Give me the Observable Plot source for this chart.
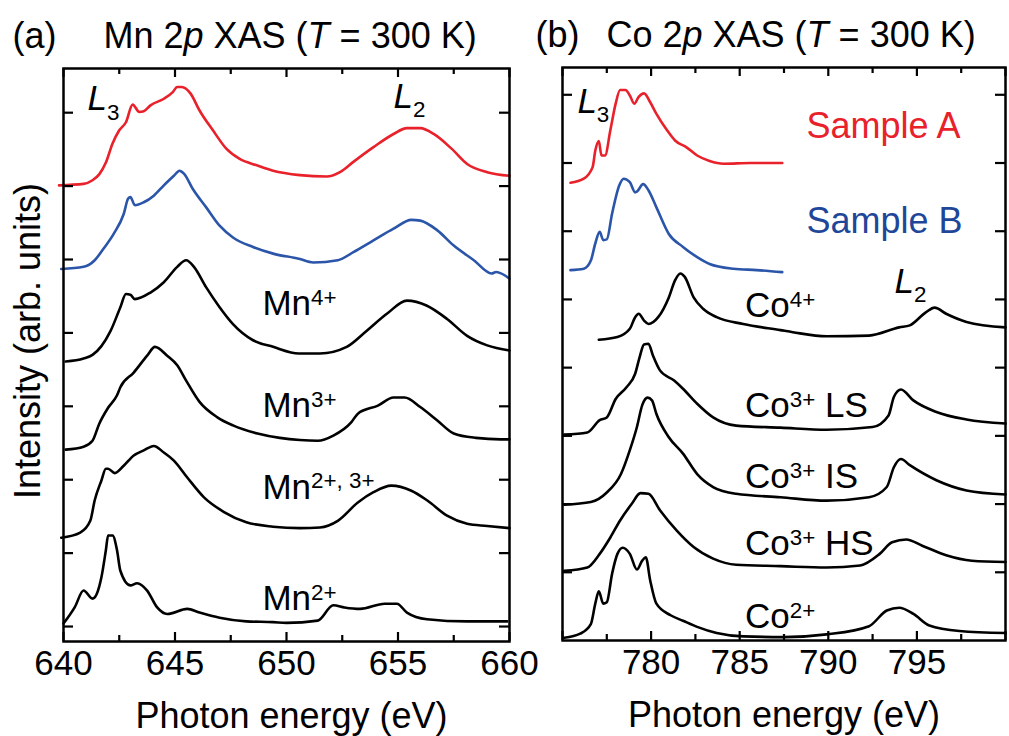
<!DOCTYPE html>
<html><head><meta charset="utf-8">
<script src="https://cdn.jsdelivr.net/npm/d3@7"></script>
<script src="https://cdn.jsdelivr.net/npm/@observablehq/plot@0.6"></script>
<style>
body{margin:0;background:#fff;}
#wrap{position:relative;width:1009px;height:736px;overflow:hidden;background:#fff;}
#wrap svg{position:absolute;top:0;}
</style></head><body><div id="wrap"></div><script>
// ---------- Panel (a): Mn 2p XAS, [photon energy (eV), intensity (offset, arb. units)] ----------
const mnSampleA = [[639.8,6.01],[640.9,6.03],[641.3,6.08],[641.6,6.16],[641.9,6.32],[642.2,6.58],[642.5,6.76],[642.8,6.87],[643.1,7.11],[643.4,7.01],[643.6,7.02],[643.9,7.10],[644.5,7.19],[644.9,7.28],[645.1,7.35],[645.3,7.35],[645.7,7.26],[646.1,7.03],[646.7,6.76],[647.3,6.51],[647.9,6.37],[648.7,6.28],[649.4,6.21],[650.6,6.15],[651.8,6.13],[652.4,6.19],[653.0,6.33],[653.9,6.53],[654.8,6.71],[655.4,6.79],[656.0,6.79],[656.6,6.71],[657.4,6.51],[658.1,6.30],[659.0,6.19],[660.0,6.14]];
const mnSampleB = [[639.9,4.87],[640.9,4.90],[641.4,4.99],[641.8,5.15],[642.25,5.35],[642.7,5.62],[642.9,5.83],[643.0,5.85],[643.2,5.74],[643.6,5.78],[644.05,5.87],[644.5,6.01],[644.95,6.14],[645.2,6.21],[645.4,6.17],[645.8,5.96],[646.4,5.71],[647.0,5.46],[647.6,5.30],[648.5,5.17],[649.4,5.08],[650.55,5.01],[651.2,4.96],[652.3,4.99],[653.0,5.10],[653.9,5.26],[654.8,5.42],[655.6,5.54],[656.0,5.53],[656.75,5.40],[657.5,5.19],[658.4,4.99],[659.2,4.81],[659.4,4.83],[660.0,4.74]];
const mn4 = [[640.1,3.61],[640.9,3.65],[641.3,3.70],[641.7,3.82],[642.1,4.02],[642.55,4.35],[642.8,4.53],[643.0,4.52],[643.2,4.46],[643.9,4.55],[644.5,4.69],[645.1,4.90],[645.5,4.99],[645.85,4.90],[646.4,4.62],[647.0,4.35],[647.6,4.12],[648.5,3.90],[649.4,3.81],[650.55,3.72],[651.5,3.72],[652.7,3.81],[653.6,4.03],[654.5,4.26],[655.4,4.44],[656.3,4.37],[657.2,4.19],[658.1,3.96],[659.0,3.83],[660.0,3.76]];
const mn3 = [[640.1,2.41],[640.9,2.45],[641.3,2.53],[641.6,2.76],[642.0,2.98],[642.4,3.15],[642.55,3.26],[643.15,3.46],[643.75,3.69],[644.1,3.81],[644.65,3.69],[645.1,3.56],[645.5,3.35],[646.1,3.06],[646.9,2.85],[647.6,2.74],[648.7,2.63],[649.7,2.57],[650.6,2.54],[651.4,2.53],[652.1,2.60],[652.9,2.78],[653.2,2.90],[654.1,3.01],[654.8,3.12],[655.3,3.12],[656.0,2.99],[656.75,2.81],[657.5,2.63],[658.5,2.57],[659.6,2.55],[660.0,2.55]];
const mn23 = [[639.9,1.21],[640.75,1.28],[641.2,1.44],[641.4,1.72],[641.7,1.99],[641.9,2.15],[642.0,2.15],[642.3,2.09],[642.7,2.19],[643.15,2.33],[643.6,2.40],[644.05,2.46],[644.5,2.37],[644.95,2.26],[645.55,2.03],[646.3,1.76],[647.2,1.56],[648.2,1.42],[649.4,1.36],[650.6,1.34],[651.5,1.35],[652.3,1.44],[653.2,1.69],[653.9,1.83],[654.7,1.92],[655.6,1.85],[656.3,1.72],[657.2,1.51],[658.1,1.40],[659.0,1.37],[660.0,1.34]];
const mn2 = [[640.0,0.04],[640.5,0.26],[640.9,0.49],[641.3,0.38],[641.5,0.45],[641.7,0.67],[641.9,1.04],[642.0,1.24],[642.2,1.24],[642.4,1.04],[642.55,0.76],[643.0,0.56],[643.3,0.59],[643.75,0.49],[644.2,0.26],[644.65,0.17],[645.55,0.24],[646.1,0.19],[647.0,0.12],[648.2,0.07],[649.4,0.06],[650.0,0.05],[651.4,0.08],[652.1,0.29],[652.6,0.26],[653.3,0.24],[654.4,0.31],[654.95,0.31],[655.4,0.19],[656.3,0.10],[658.1,0.07],[659.9,0.07]];

// ---------- Panel (b): Co 2p XAS ----------
const coSampleA = [[775.45,6.71],[776.2,6.77],[776.7,6.94],[776.85,7.18],[777.05,7.32],[777.2,7.11],[777.4,7.11],[777.7,7.48],[778.0,7.87],[778.25,8.07],[778.55,8.07],[778.8,7.99],[779.05,7.87],[779.3,7.97],[779.6,8.02],[779.95,7.89],[780.3,7.72],[780.9,7.48],[781.35,7.33],[782.0,7.23],[782.6,7.11],[783.3,7.03],[784.1,6.99],[785.6,7.00],[787.4,7.00]];
const coSampleB = [[775.45,5.43],[776.2,5.45],[776.6,5.57],[776.85,5.82],[777.1,5.99],[777.3,5.87],[777.5,5.88],[777.8,6.26],[778.2,6.67],[778.45,6.77],[778.8,6.72],[779.1,6.57],[779.2,6.58],[779.55,6.69],[779.85,6.60],[780.3,6.35],[781.0,5.96],[781.8,5.77],[782.6,5.62],[783.3,5.52],[784.65,5.45],[785.95,5.43],[787.4,5.40]];
const co4 = [[777.05,4.41],[778.1,4.45],[778.8,4.57],[779.1,4.74],[779.3,4.79],[779.6,4.69],[779.85,4.64],[780.4,4.74],[781.0,5.03],[781.35,5.28],[781.65,5.38],[781.9,5.33],[782.4,5.03],[782.95,4.86],[783.7,4.74],[785.2,4.64],[787.3,4.55],[788.0,4.52],[789.9,4.46],[792.3,4.47],[794.0,4.59],[794.6,4.62],[795.5,4.81],[796.0,4.88],[796.65,4.79],[797.8,4.67],[800,4.59]];
const co3LS = [[775.1,3.02],[776.4,3.05],[777.1,3.23],[777.5,3.27],[778.0,3.54],[778.6,3.71],[779.1,3.91],[779.35,4.15],[779.6,4.34],[779.85,4.35],[780.1,4.18],[780.5,3.96],[781.3,3.81],[781.8,3.69],[782.6,3.47],[783.5,3.27],[784.8,3.15],[787.3,3.12],[789.9,3.09],[792.5,3.13],[793.4,3.30],[793.7,3.57],[794.1,3.68],[794.8,3.52],[796.1,3.35],[797.8,3.24],[800,3.18]];
const co3IS = [[775.1,1.99],[776.6,2.03],[777.5,2.17],[778.3,2.44],[778.8,2.79],[779.2,3.13],[779.5,3.45],[779.8,3.56],[780.05,3.52],[780.3,3.32],[781.0,2.98],[781.8,2.74],[782.6,2.44],[783.5,2.25],[784.8,2.15],[787.3,2.10],[789.9,2.05],[792.3,2.10],[793.3,2.25],[793.7,2.54],[794.1,2.66],[794.6,2.57],[796.1,2.35],[797.8,2.20],[800,2.14]];
const co3HS = [[775.1,1.02],[776.4,1.07],[777.1,1.27],[777.7,1.51],[778.25,1.76],[778.9,2.00],[779.4,2.16],[779.85,2.15],[780.5,1.91],[781.45,1.61],[782.4,1.37],[783.5,1.20],[784.8,1.11],[787.3,1.09],[789.9,1.07],[791.8,1.10],[792.9,1.27],[793.6,1.44],[794.4,1.48],[795.3,1.39],[796.65,1.25],[798.1,1.17],[800,1.15]];
const co2 = [[775.1,0.04],[776.0,0.10],[776.6,0.24],[776.85,0.54],[777.05,0.72],[777.3,0.54],[777.5,0.56],[777.8,0.98],[778.1,1.27],[778.4,1.36],[778.8,1.27],[779.2,1.04],[779.5,1.17],[779.7,1.22],[779.95,0.88],[780.3,0.54],[781.1,0.37],[781.8,0.29],[782.6,0.20],[783.7,0.11],[785.2,0.06],[787.5,0.05],[789.9,0.09],[792.3,0.21],[793.3,0.44],[794.0,0.48],[794.8,0.39],[795.7,0.22],[797.4,0.14],[800,0.11]];

// ---------- ticks and labels ----------
const mnXMajor = [640, 645, 650, 655, 660];
const mnXMinor = [642.5, 647.5, 652.5, 657.5];
const mnYTicks = [0, 1, 2, 3, 4, 5, 6, 7];
const coXMajor = [775, 780, 785, 790, 795, 800];
const coXLabels = [780, 785, 790, 795];
const coXMinor = [777.5, 782.5, 787.5, 792.5, 797.5];
const coYTicks = [1, 2, 3, 4, 5, 6, 7, 8];

const mnLabels = [
  {x: 641.08, y: 7.03, text: "*L*_{3}"},
  {x: 654.8, y: 7.06, text: "*L*_{2}"},
  {x: 648.92, y: 4.24, text: "Mn^{4+}"},
  {x: 648.92, y: 2.85, text: "Mn^{3+}"},
  {x: 648.92, y: 1.74, text: "Mn^{2+, 3+}"},
  {x: 648.92, y: 0.22, text: "Mn^{2+}"}
];
const coLabels = [
  {x: 775.84, y: 7.74, text: "*L*_{3}"},
  {x: 793.74, y: 5.10, text: "*L*_{2}"},
  {x: 785.3, y: 4.74, text: "Co^{4+}"},
  {x: 785.3, y: 3.27, text: "Co^{3+} LS"},
  {x: 785.3, y: 2.23, text: "Co^{3+} IS"},
  {x: 785.3, y: 1.25, text: "Co^{3+} HS"},
  {x: 785.3, y: 0.18, text: "Co^{2+}"}
];
const sampleLabels = [
  {x: 788.77, y: 7.36, text: "Sample A", key: "A"},
  {x: 788.77, y: 5.97, text: "Sample B", key: "B"}
];

const RED = "#e8212b";
const BLUE = "#2b55a8";
const BLUE_TEXT = "#1f4799";
const FONT = "'Liberation Sans', Arial, Helvetica, sans-serif";

function makePanel(o) {
  const fw = o.width - o.marginLeft - o.marginRight;
  const fh = o.height - o.marginTop - o.marginBottom;
  const marks = [];
  for (const s of o.series) {
    marks.push(Plot.line(s.data, {x: d => d[0], y: d => d[1], stroke: s.color, strokeWidth: 2.6, curve: "monotone-x"}));
  }
  marks.push(Plot.frame({stroke: "#000", strokeWidth: 2.5}));
  marks.push(Plot.ruleX(o.xMajor, {x: d => d, insetTop: fh - 9, strokeWidth: 2.2}));
  marks.push(Plot.ruleX(o.xMajor, {x: d => d, insetBottom: fh - 9, strokeWidth: 2.2}));
  marks.push(Plot.ruleX(o.xMinor, {x: d => d, insetTop: fh - 6, strokeWidth: 2.2}));
  marks.push(Plot.ruleX(o.xMinor, {x: d => d, insetBottom: fh - 6, strokeWidth: 2.2}));
  marks.push(Plot.ruleY(o.yTicks, {y: d => d, insetRight: fw - 10, strokeWidth: 2.2}));
  marks.push(Plot.ruleY(o.yTicks, {y: d => d, insetLeft: fw - 10, strokeWidth: 2.2}));
  marks.push(Plot.axisX({ticks: o.xLabels, tickSize: 0, tickPadding: 9, tickFormat: d => String(d), fontSize: 35, label: null}));
  marks.push(Plot.text(o.labels, {x: "x", y: "y", text: "text", textAnchor: "start", lineAnchor: "bottom", fontSize: 35, fill: "#000"}));
  for (const t of o.extraText || []) marks.push(t);
  marks.push(Plot.text([o.xLabel], {frameAnchor: "bottom", dx: o.xLabelDx || 0, dy: 86, textAnchor: "middle", lineAnchor: "bottom", fontSize: 36, fill: "#000"}));
  marks.push(Plot.text([o.tag], {frameAnchor: "top-left", dx: o.tagDx, dy: -21, textAnchor: "start", lineAnchor: "bottom", fontSize: 36, fill: "#000"}));
  marks.push(Plot.text([o.title], {frameAnchor: "top-left", dx: o.titleDx, dy: -21, textAnchor: "start", lineAnchor: "bottom", fontSize: 36, fill: "#000"}));
  if (o.yLabel) marks.push(Plot.text([o.yLabel], {frameAnchor: "left", rotate: -90, dx: -35, dy: -14, textAnchor: "middle", lineAnchor: "middle", fontSize: 36, fill: "#000"}));
  return Plot.plot({
    width: o.width, height: o.height,
    marginLeft: o.marginLeft, marginRight: o.marginRight, marginTop: o.marginTop, marginBottom: o.marginBottom,
    x: {domain: o.xDomain, axis: null},
    y: {domain: o.yDomain, axis: null},
    style: {fontFamily: FONT, fontSize: "35px", background: "transparent", overflow: "visible", color: "#000"},
    marks
  });
}

const svgA = makePanel({
  width: 530, height: 736, marginLeft: 63, marginRight: 21, marginTop: 68, marginBottom: 95,
  xDomain: [640, 660], yDomain: [-0.204, 7.602],
  xMajor: mnXMajor, xMinor: mnXMinor, xLabels: mnXMajor, yTicks: mnYTicks,
  series: [
    {data: mnSampleA, color: RED}, {data: mnSampleB, color: BLUE},
    {data: mn4, color: "#000"}, {data: mn3, color: "#000"}, {data: mn23, color: "#000"}, {data: mn2, color: "#000"}
  ],
  labels: mnLabels,
  xLabel: "Photon energy (eV)", xLabelDx: 5,
  tag: "(a)", tagDx: -51, title: "Mn 2*p* XAS (*T* = 300 K)", titleDx: 40,
  yLabel: "Intensity (arb. units)"
});

const svgB = makePanel({
  width: 479, height: 736, marginLeft: 32, marginRight: 4, marginTop: 67, marginBottom: 96,
  xDomain: [775, 800], yDomain: [0, 8.40],
  xMajor: coXMajor, xMinor: coXMinor, xLabels: coXLabels, yTicks: coYTicks,
  series: [
    {data: coSampleA, color: RED}, {data: coSampleB, color: BLUE},
    {data: co4, color: "#000"}, {data: co3LS, color: "#000"}, {data: co3IS, color: "#000"}, {data: co3HS, color: "#000"}, {data: co2, color: "#000"}
  ],
  labels: coLabels,
  extraText: [
    Plot.text(sampleLabels.filter(d => d.key === "A"), {x: "x", y: "y", text: "text", textAnchor: "start", lineAnchor: "bottom", fontSize: 36, fill: RED}),
    Plot.text(sampleLabels.filter(d => d.key === "B"), {x: "x", y: "y", text: "text", textAnchor: "start", lineAnchor: "bottom", fontSize: 36, fill: BLUE_TEXT})
  ],
  xLabel: "Photon energy (eV)",
  tag: "(b)", tagDx: -27, title: "Co 2*p* XAS (*T* = 300 K)", titleDx: 44
});

const wrap = document.getElementById("wrap");
svgA.style.left = "0px";
svgB.style.left = "530px";
wrap.appendChild(svgA);
wrap.appendChild(svgB);

// rich text: *italic*, ^{superscript}, _{subscript}
function richify(svg) {
  d3.select(svg).selectAll("text").each(function() {
    const el = this;
    const s = el.textContent;
    if (!/[\^_*]/.test(s)) return;
    const fs = parseFloat(getComputedStyle(el).fontSize) || 35;
    const parts = s.match(/\^\{[^}]*\}|_\{[^}]*\}|\*[^*]*\*|[^\^_*]+/g);
    while (el.firstChild) el.removeChild(el.firstChild);
    el.style.whiteSpace = "pre";
    let shift = 0;
    for (const p of parts) {
      const t = document.createElementNS("http://www.w3.org/2000/svg", "tspan");
      let target = 0, txt = p, size = null, italic = false;
      if (p.startsWith("^{")) { txt = p.slice(2, -1); target = -0.3 * fs; size = 0.64 * fs; }
      else if (p.startsWith("_{")) { txt = p.slice(2, -1); target = 0.26 * fs; size = 0.64 * fs; }
      else if (p.startsWith("*")) { txt = p.slice(1, -1); italic = true; }
      if (size) t.setAttribute("font-size", size);
      if (italic) t.setAttribute("font-style", "italic");
      if (target !== shift) { t.setAttribute("dy", target - shift); shift = target; }
      t.textContent = txt;
      el.appendChild(t);
    }
  });
}
richify(svgA);
richify(svgB);
</script></body></html>
